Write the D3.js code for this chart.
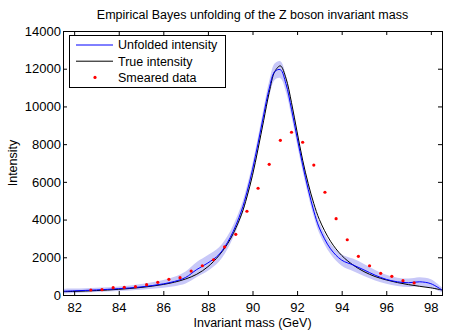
<!DOCTYPE html>
<html>
<head>
<meta charset="utf-8">
<script src="https://cdn.jsdelivr.net/npm/d3@7"></script>
<style>
  body { margin: 0; background: #fff; }
  svg { font-family: 'Liberation Sans', Arial, Helvetica, sans-serif; }
</style>
</head>
<body>
<div class="chart"></div>
<script>
// mass grid (GeV) used for the curves
const massGrid = [81.5, 82, 82.5, 83, 83.5, 84, 84.5, 85, 85.5, 86, 86.5, 87, 87.5, 88, 88.5, 89, 89.5, 89.75,
  90, 90.25, 90.5, 90.75, 91, 91.25, 91.5, 91.75, 92, 92.25, 92.5, 92.75, 93, 93.5, 94, 94.5, 95, 95.5,
  96, 96.5, 97, 97.5, 98, 98.5];

const trueIntensity = [175, 190, 210, 235, 265, 300, 345, 400, 470, 560, 680, 850, 1100, 1500, 2100, 2950, 4250, 5200,
  6350, 7750, 9250, 10750, 11850, 12150, 11500, 10200, 8650, 7150, 5900, 4850, 4000, 2850, 2100, 1600, 1240, 980,
  800, 660, 550, 460, 380, 265];

const unfolded = [200, 220, 245, 270, 300, 335, 375, 430, 500, 590, 720, 930, 1350, 1700, 2150, 3050, 4450, 5450,
  6650, 8050, 9550, 10950, 11850, 11950, 11200, 9850, 8350, 6900, 5600, 4450, 3550, 2450, 1850, 1600, 1330, 1050,
  830, 700, 650, 700, 600, 265];

const bandHalf = [130, 120, 110, 110, 110, 120, 130, 150, 170, 200, 250, 320, 400, 420, 380, 330, 320, 330,
  340, 360, 380, 410, 440, 450, 430, 400, 370, 340, 320, 300, 290, 280, 300, 330, 320, 280,
  240, 220, 220, 240, 230, 120];

// smeared data, bin centres
const binCentres = [82.75, 83.25, 83.75, 84.25, 84.75, 85.25, 85.75, 86.25, 86.75, 87.25, 87.75, 88.25, 88.75, 89.25,
  89.75, 90.25, 90.75, 91.25, 91.75, 92.25, 92.75, 93.25, 93.75, 94.25, 94.75, 95.25, 95.75, 96.25, 96.75, 97.25];
const smeared = [265, 280, 390, 405, 440, 550, 670, 830, 920, 1270, 1550, 1870, 2550, 3220,
  4440, 5660, 6930, 8200, 8630, 8100, 6890, 5450, 4050, 2930, 2050, 1550, 1150, 990, 760, 640];

const xTicks = [82, 84, 86, 88, 90, 92, 94, 96, 98];
const yTicks = [0, 2000, 4000, 6000, 8000, 10000, 12000, 14000];

const W = 452, H = 334;
const margin = { top: 31, right: 10, bottom: 39, left: 63 },
  width = W - margin.left - margin.right,
  height = H - margin.top - margin.bottom;

const svg = d3.select('.chart').append('svg').attr('width', W).attr('height', H);

const x = d3.scaleLinear().domain([81.5, 98.5]).range([0, width]);
const y = d3.scaleLinear().domain([0, 14000]).range([height, 0]);

const g = svg.append('g').attr('transform', 'translate(' + margin.left + ',' + margin.top + ')');

const curves = massGrid.map(function(m, i) {
  return { m: m, t: trueIntensity[i], u: unfolded[i], lo: unfolded[i] - bandHalf[i], hi: unfolded[i] + bandHalf[i] };
});

g.append('clipPath').attr('id', 'plotclip').append('rect').attr('width', width).attr('height', height);
const plot = g.append('g').attr('clip-path', 'url(#plotclip)');

plot.append('path')
  .datum(curves)
  .attr('fill', '#c8c8f8')
  .attr('d', d3.area().curve(d3.curveCatmullRom)
    .x(function(d) { return x(d.m); })
    .y0(function(d) { return y(d.lo); })
    .y1(function(d) { return y(d.hi); }));

plot.append('path')
  .datum(curves)
  .attr('fill', 'none').attr('stroke', '#000').attr('stroke-width', 1)
  .attr('d', d3.line().curve(d3.curveCatmullRom).x(function(d) { return x(d.m); }).y(function(d) { return y(d.t); }));

plot.append('path')
  .datum(curves)
  .attr('fill', 'none').attr('stroke', '#0000ff').attr('stroke-width', 1)
  .attr('d', d3.line().curve(d3.curveCatmullRom).x(function(d) { return x(d.m); }).y(function(d) { return y(d.u); }));

plot.selectAll('.dot')
  .data(binCentres)
  .enter().append('circle')
  .attr('class', 'dot')
  .attr('cx', function(d) { return x(d); })
  .attr('cy', function(d, i) { return y(smeared[i]); })
  .attr('r', 1.6)
  .attr('fill', '#ff0000');

// axes, matlab style: ticks inward on all four sides
const tl = 4;
function styleAxis(sel) {
  sel.selectAll('path').remove();
  sel.selectAll('line').attr('stroke', '#000');
  sel.selectAll('text').attr('fill', '#000').style('font-size', '13px');
}
g.append('g').attr('transform', 'translate(0,' + height + ')')
  .call(d3.axisBottom(x).tickValues(xTicks).tickSizeInner(-tl).tickSizeOuter(0).tickPadding(8).tickFormat(d3.format('d')))
  .call(styleAxis);
g.append('g')
  .call(d3.axisTop(x).tickValues(xTicks).tickSizeInner(-tl).tickSizeOuter(0).tickFormat(''))
  .call(styleAxis);
g.append('g')
  .call(d3.axisLeft(y).tickValues(yTicks).tickSizeInner(-tl).tickSizeOuter(0).tickPadding(2).tickFormat(d3.format('d')))
  .call(styleAxis);
g.append('g').attr('transform', 'translate(' + width + ',0)')
  .call(d3.axisRight(y).tickValues(yTicks).tickSizeInner(-tl).tickSizeOuter(0).tickFormat(''))
  .call(styleAxis);

g.append('rect').attr('width', width).attr('height', height)
  .attr('fill', 'none').attr('stroke', '#000').attr('stroke-width', 1).attr('shape-rendering', 'crispEdges');

// legend
const lg = g.append('g').attr('transform', 'translate(6,4)');
lg.append('rect').attr('width', 156).attr('height', 52).attr('fill', '#fff')
  .attr('stroke', '#000').attr('stroke-width', 1).attr('shape-rendering', 'crispEdges');
const legendItems = [
  { label: 'Unfolded intensity', kind: 'line', color: '#0000ff' },
  { label: 'True intensity', kind: 'line', color: '#000' },
  { label: 'Smeared data', kind: 'dot', color: '#ff0000' }
];
legendItems.forEach(function(it, i) {
  const cy = 10 + i * 16.2;
  if (it.kind === 'line') {
    lg.append('line').attr('x1', 7).attr('x2', 44).attr('y1', cy).attr('y2', cy)
      .attr('stroke', it.color).attr('stroke-width', 1);
  } else {
    lg.append('circle').attr('cx', 26).attr('cy', cy).attr('r', 1.6).attr('fill', it.color);
  }
  lg.append('text').attr('x', 49).attr('y', cy).attr('dy', '0.35em')
    .style('font-size', '12.5px').text(it.label);
});

// titles
svg.append('text').attr('x', margin.left + width / 2).attr('y', 19)
  .attr('text-anchor', 'middle').style('font-size', '12.5px')
  .text('Empirical Bayes unfolding of the Z boson invariant mass');
svg.append('text').attr('x', margin.left + width / 2).attr('y', 327)
  .attr('text-anchor', 'middle').style('font-size', '12.5px')
  .text('Invariant mass (GeV)');
svg.append('text').attr('transform', 'translate(17,' + (margin.top + height / 2) + ') rotate(-90)')
  .attr('text-anchor', 'middle').style('font-size', '12.5px')
  .text('Intensity');
</script>
</body>
</html>
